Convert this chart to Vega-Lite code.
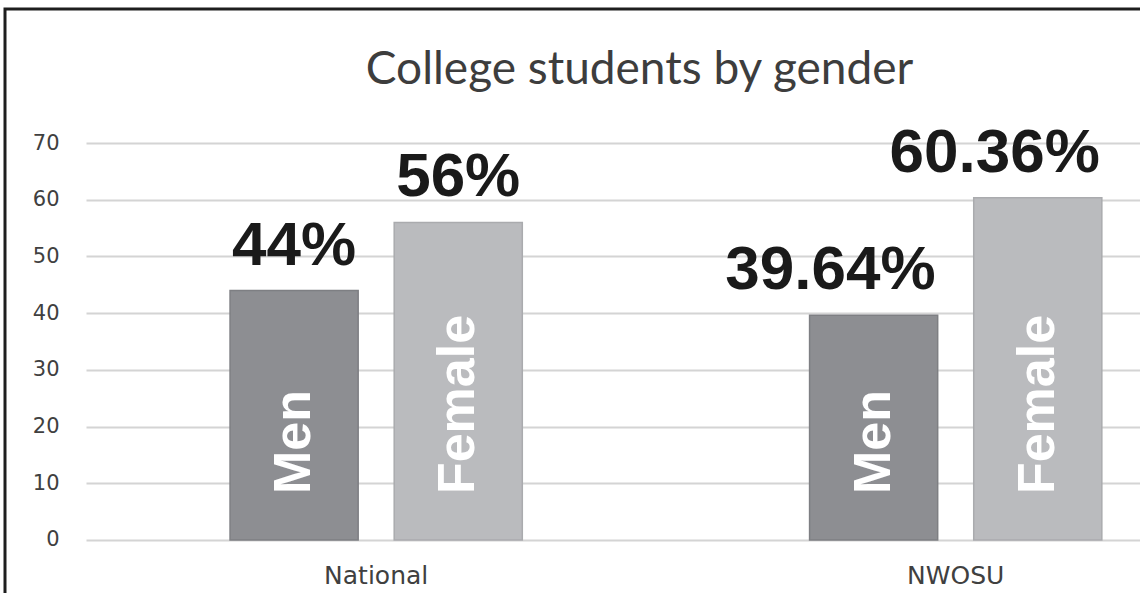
{
  "$schema": "https://vega.github.io/schema/vega-lite/v6.json",
  "width": 1135,
  "height": 584,
  "padding": {"left": 5, "top": 9, "right": 0, "bottom": 0},
  "autosize": {"type": "none"},
  "background": "white",
  "config": {
    "view": {"stroke": "#1e1e1e", "strokeWidth": 3, "strokeDash": [1135, 1719, 584]}
  },
  "title": {
    "text": "College students by gender",
    "font": "Lato",
    "fontSize": 46,
    "fontWeight": "normal",
    "color": "#3d3d3d",
    "anchor": "middle",
    "frame": "group",
    "dx": 67,
    "offset": -121,
    "baseline": "alphabetic"
  },
  "data": {
    "values": [
      {"group": "National", "gender": "Men", "value": 44, "label": "44%"},
      {"group": "National", "gender": "Female", "value": 56, "label": "56%"},
      {"group": "NWOSU", "gender": "Men", "value": 39.64, "label": "39.64%"},
      {"group": "NWOSU", "gender": "Female", "value": 60.36, "label": "60.36%"}
    ]
  },
  "encoding": {
    "x": {
      "field": "group",
      "type": "nominal",
      "sort": ["National", "NWOSU"],
      "scale": {"paddingInner": 0.4957, "paddingOuter": 0.2271, "align": 0.855},
      "axis": {
        "orient": "bottom",
        "offset": -53,
        "domain": false,
        "ticks": false,
        "labelPadding": 23,
        "labelFont": "DejaVu Sans",
        "labelFontSize": 25,
        "labelColor": "#404040",
        "labelAngle": 0,
        "title": null,
        "grid": false
      }
    },
    "xOffset": {
      "field": "gender",
      "type": "nominal",
      "sort": ["Men", "Female"],
      "scale": {"paddingInner": 0.2195, "paddingOuter": 0}
    },
    "y": {
      "field": "value",
      "type": "quantitative",
      "scale": {"domain": [-9.35, 93.65], "nice": false, "zero": true},
      "axis": {
        "values": [0, 10, 20, 30, 40, 50, 60, 70],
        "offset": -81,
        "domain": false,
        "ticks": false,
        "tickSize": 0,
        "labelPadding": 27,
        "labelFont": "DejaVu Sans",
        "labelFontSize": 21,
        "labelColor": "#404040",
        "title": null,
        "grid": true,
        "gridColor": "#d4d4d4",
        "gridWidth": 2,
        "gridDash": [0, 81, 2000]
      }
    }
  },
  "layer": [
    {
      "mark": {"type": "bar", "strokeWidth": 1.5},
      "encoding": {
        "color": {
          "field": "gender",
          "type": "nominal",
          "scale": {"domain": ["Men", "Female"], "range": ["#8d8e92", "#babbbe"]},
          "legend": null
        },
        "stroke": {
          "field": "gender",
          "type": "nominal",
          "scale": {"domain": ["Men", "Female"], "range": ["#7e7f83", "#aaabae"]},
          "legend": null
        }
      }
    },
    {
      "mark": {
        "type": "text",
        "align": "right",
        "baseline": "alphabetic",
        "dx": 62,
        "dy": -26,
        "font": "Liberation Sans",
        "fontWeight": "bold",
        "fontSize": 62,
        "color": "#1a1a1a"
      },
      "encoding": {
        "text": {"field": "label", "type": "nominal"}
      }
    },
    {
      "mark": {
        "type": "text",
        "angle": 270,
        "align": "left",
        "baseline": "middle",
        "font": "Liberation Sans",
        "fontWeight": "bold",
        "fontSize": 52,
        "color": "white"
      },
      "encoding": {
        "y": {"datum": 8.1, "type": "quantitative"},
        "text": {"field": "gender", "type": "nominal"}
      }
    }
  ]
}
